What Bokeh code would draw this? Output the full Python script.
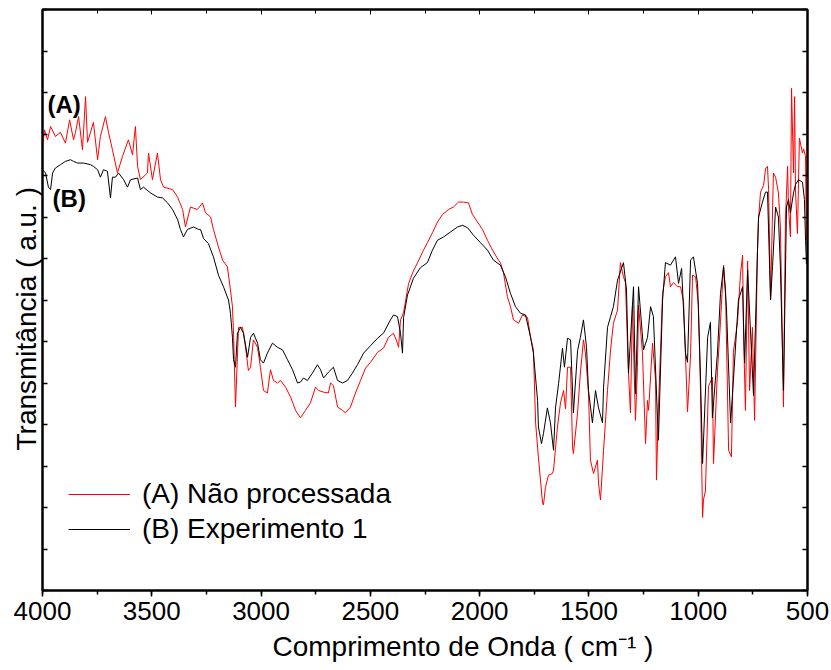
from bokeh.plotting import figure
from bokeh.models import (Range1d, SingleIntervalTicker, LinearAxis, Legend, LegendItem,
                          Label, Title, CustomJSTickFormatter)
from bokeh.embed import file_html
from bokeh.resources import INLINE

# ---- data (wavenumber in cm^-1, transmittance in arbitrary units) ----
red_wn = [4000, 3991, 3977, 3963, 3941, 3918, 3895, 3876, 3858, 3849,
          3835, 3817, 3803, 3794, 3767, 3748, 3735, 3712, 3698, 3680,
          3657, 3634, 3607, 3588, 3575, 3565, 3552, 3520, 3515, 3497,
          3474, 3460, 3446, 3405, 3382, 3359, 3346, 3323, 3291, 3268,
          3254, 3231, 3218, 3195, 3176, 3154, 3140, 3131, 3126, 3117,
          3103, 3085, 3071, 3058, 3048, 3035, 3016, 3003, 2989, 2971,
          2957, 2943, 2925, 2911, 2888, 2865, 2842, 2820, 2797, 2774,
          2751, 2737, 2714, 2692, 2682, 2669, 2650, 2627, 2614, 2591,
          2568, 2545, 2522, 2499, 2467, 2440, 2417, 2394, 2376, 2371,
          2362, 2348, 2325, 2303, 2284, 2257, 2239, 2216, 2193, 2170,
          2142, 2120, 2097, 2074, 2051, 2033, 2010, 1987, 1964, 1941,
          1914, 1905, 1891, 1873, 1859, 1845, 1822, 1804, 1781, 1767,
          1754, 1744, 1731, 1712, 1708, 1699, 1685, 1667, 1662, 1644,
          1630, 1616, 1607, 1598, 1584, 1575, 1571, 1552, 1539, 1525,
          1516, 1502, 1493, 1479, 1461, 1456, 1447, 1433, 1415, 1401,
          1388, 1369, 1356, 1342, 1333, 1319, 1310, 1301, 1287, 1278,
          1273, 1255, 1241, 1232, 1227, 1209, 1195, 1191, 1182, 1163,
          1150, 1136, 1127, 1113, 1095, 1081, 1067, 1049, 1035, 1026,
          1012, 999, 990, 980, 976, 967, 953, 935, 930, 912,
          898, 884, 875, 861, 848, 839, 820, 807, 797, 793,
          784, 774, 765, 752, 742, 729, 724, 715, 701, 692,
          683, 678, 669, 656, 646, 633, 624, 610, 601, 591,
          587, 578, 573, 564, 559, 555, 546, 537, 523, 518,
          509, 505, 500]
red_t = [53.1, 55.5, 54.3, 55.9, 54.7, 55.2, 53.9, 56.7, 54.3, 55.2,
         57.1, 53.1, 59.5, 54.0, 56.4, 51.9, 54.7, 57.1, 55.2, 53.1,
         50.3, 52.3, 54.3, 52.5, 55.9, 51.1, 49.5, 50.3, 52.7, 49.5,
         52.7, 49.5, 48.6, 48.3, 47.4, 45.9, 43.8, 46.2, 45.9, 46.7,
         45.5, 45.0, 43.5, 41.4, 39.8, 39.0, 36.2, 34.2, 31.0, 22.1,
         31.7, 31.7, 29.3, 26.5, 26.9, 30.2, 29.3, 26.9, 24.1, 23.8,
         26.6, 25.3, 25.0, 25.3, 24.5, 23.3, 21.7, 20.8, 21.7, 22.6,
         24.5, 24.1, 23.9, 23.8, 25.0, 24.7, 22.1, 21.7, 21.4, 22.1,
         23.8, 25.3, 26.8, 27.5, 28.7, 29.2, 30.5, 31.0, 29.8, 29.3,
         32.6, 33.5, 37.0, 38.5, 39.5, 41.0, 41.9, 43.1, 44.4, 45.3,
         45.9, 46.2, 46.8, 46.8, 46.7, 45.3, 44.4, 43.5, 42.2, 41.0,
         39.8, 39.5, 38.3, 35.4, 34.2, 32.6, 32.2, 33.2, 32.9, 30.5,
         29.0, 20.2, 16.0, 10.5, 10.3, 12.4, 13.9, 14.1, 14.5, 19.7,
         22.6, 24.1, 21.9, 26.9, 26.9, 17.3, 16.5, 21.4, 26.2, 30.2,
         28.6, 23.8, 15.7, 14.1, 15.7, 12.9, 10.9, 16.9, 24.1, 29.0,
         32.2, 33.8, 39.5, 37.8, 37.1, 26.2, 21.4, 34.2, 20.5, 26.9,
         34.4, 28.6, 17.7, 22.9, 21.7, 29.8, 25.3, 13.3, 22.0, 35.8,
         37.8, 38.3, 36.6, 37.1, 36.6, 36.6, 34.8, 21.5, 28.4, 38.0,
         37.8, 34.4, 24.6, 8.8, 10.9, 12.0, 24.6, 25.7, 15.3, 26.4,
         32.4, 39.2, 36.2, 16.9, 16.1, 28.7, 32.4, 38.0, 40.4, 31.7,
         21.7, 39.7, 24.1, 31.7, 20.5, 40.8, 44.7, 48.0, 48.8, 50.8,
         51.1, 48.3, 35.0, 50.3, 49.8, 47.9, 43.8, 22.1, 44.7, 51.1,
         46.2, 42.6, 60.5, 50.3, 59.5, 48.3, 43.0, 54.5, 52.7, 53.2,
         52.3, 42.2, 65.2]

black_wn = [4000, 3986, 3973, 3963, 3954, 3941, 3918, 3895, 3872, 3858,
            3840, 3812, 3780, 3767, 3748, 3735, 3721, 3703, 3689, 3680,
            3666, 3652, 3629, 3611, 3597, 3565, 3552, 3538, 3506, 3474,
            3451, 3428, 3405, 3382, 3369, 3355, 3337, 3309, 3286, 3277,
            3263, 3241, 3218, 3195, 3172, 3149, 3140, 3131, 3126, 3117,
            3108, 3094, 3080, 3062, 3048, 3035, 3016, 3003, 2989, 2971,
            2948, 2925, 2902, 2879, 2856, 2833, 2820, 2806, 2788, 2765,
            2742, 2728, 2714, 2692, 2669, 2650, 2627, 2605, 2582, 2559,
            2531, 2499, 2467, 2440, 2408, 2394, 2376, 2362, 2353, 2348,
            2330, 2303, 2271, 2239, 2216, 2193, 2165, 2133, 2101, 2078,
            2055, 2028, 1996, 1964, 1937, 1905, 1882, 1859, 1836, 1813,
            1790, 1767, 1754, 1735, 1731, 1717, 1708, 1690, 1676, 1662,
            1653, 1639, 1621, 1612, 1598, 1584, 1571, 1552, 1539, 1525,
            1511, 1502, 1484, 1470, 1456, 1438, 1433, 1415, 1401, 1388,
            1369, 1342, 1328, 1319, 1296, 1287, 1273, 1250, 1232, 1218,
            1205, 1182, 1163, 1150, 1127, 1104, 1090, 1076, 1058, 1049,
            1035, 1022, 1003, 990, 980, 957, 944, 935, 912, 898,
            884, 871, 852, 839, 816, 797, 788, 774, 761, 747,
            729, 724, 706, 692, 683, 669, 660, 646, 633, 624,
            610, 596, 587, 578, 564, 555, 541, 523, 514, 509,
            505, 500]
black_t = [50.7, 50.3, 48.6, 48.3, 50.3, 50.9, 51.3, 51.7, 51.9, 51.7,
           51.5, 51.5, 51.3, 51.1, 50.7, 49.8, 50.7, 50.5, 47.3, 49.8,
           49.8, 50.3, 49.5, 48.6, 49.5, 49.7, 48.3, 48.6, 47.9, 47.4,
           47.3, 46.7, 45.9, 44.7, 43.5, 42.6, 43.5, 43.8, 43.5, 43.5,
           42.4, 41.8, 40.2, 38.0, 36.6, 35.0, 33.4, 30.5, 27.8, 26.9,
           31.0, 31.7, 31.0, 28.1, 30.5, 31.0, 29.8, 27.8, 27.4, 28.6,
           29.8, 29.3, 29.0, 27.8, 26.6, 25.0, 25.1, 25.6, 25.3, 26.2,
           27.2, 26.6, 25.6, 26.3, 26.9, 25.3, 25.0, 25.3, 26.2, 27.2,
           28.6, 29.5, 30.4, 31.0, 32.6, 33.2, 33.0, 31.0, 28.6, 32.9,
           35.6, 37.6, 38.9, 39.5, 41.0, 42.2, 42.6, 43.2, 43.8, 44.0,
           43.7, 42.8, 41.9, 41.0, 39.8, 39.2, 37.8, 35.8, 34.2, 33.4,
           33.2, 30.5, 28.6, 22.9, 19.7, 17.7, 18.9, 22.0, 20.2, 16.9,
           22.0, 24.9, 29.2, 26.9, 30.4, 30.2, 21.4, 28.9, 30.5, 32.6,
           29.3, 24.1, 20.2, 24.1, 22.0, 20.2, 24.5, 31.7, 33.0, 34.2,
           37.4, 39.5, 36.2, 26.2, 36.6, 23.7, 36.6, 29.0, 30.5, 34.2,
           33.0, 18.1, 35.0, 39.5, 39.2, 40.2, 37.0, 38.8, 28.6, 27.5,
           39.8, 40.2, 37.0, 26.2, 15.3, 30.5, 32.3, 20.8, 28.6, 35.8,
           39.0, 34.2, 20.2, 25.3, 35.0, 36.6, 27.4, 38.6, 31.4, 23.5,
           40.8, 45.0, 46.8, 48.0, 48.0, 35.0, 39.0, 46.2, 45.0, 39.0,
           24.1, 46.2, 47.1, 45.5, 47.9, 48.9, 49.5, 49.2, 47.1, 42.2,
           39.4, 40.0]

series_labels = ["(A) Não processada", "(B) Experimento 1"]
curve_tags = ["(A)", "(B)"]
x_title = "Comprimento de Onda ( cm\u207b\u00b9 )"
y_title = "Transmitância ( a.u. )"

FONT = "Liberation Sans"

p = figure(width=831, height=670, output_backend="svg", toolbar_location=None,
           x_range=Range1d(4000, 500), y_range=Range1d(0, 70),
           x_axis_location=None, y_axis_location=None,
           min_border_left=42, min_border_right=24, min_border_top=9, min_border_bottom=80)
p.grid.visible = False
p.outline_line_color = "black"
p.outline_line_width = 2
p.background_fill_color = "white"
p.border_fill_color = "white"

blank = CustomJSTickFormatter(code="return ''")

xb = LinearAxis(ticker=SingleIntervalTicker(interval=500, num_minor_ticks=2),
                major_tick_in=0, major_tick_out=6, minor_tick_in=0, minor_tick_out=4,
                axis_line_width=2, major_tick_line_width=1.5, minor_tick_line_width=1.5,
                major_label_text_font=FONT, major_label_text_font_size="26px",
                major_label_text_color="black", major_label_standoff=5)
p.add_layout(xb, "below")

xt = LinearAxis(ticker=SingleIntervalTicker(interval=500, num_minor_ticks=2), formatter=blank,
                major_tick_in=5, major_tick_out=0, minor_tick_in=4, minor_tick_out=0,
                axis_line_width=2, major_label_standoff=0, major_label_text_font_size="1px")
p.add_layout(xt, "above")

for side in ("left", "right"):
    ya = LinearAxis(ticker=SingleIntervalTicker(interval=5, num_minor_ticks=0), formatter=blank,
                    major_tick_in=5, major_tick_out=0, minor_tick_in=0, minor_tick_out=0,
                    axis_line_width=2, major_tick_line_width=1.5,
                    major_label_standoff=0, major_label_text_font_size="1px")
    p.add_layout(ya, side)

r_red = p.line(red_wn, red_t, line_color="#ff0000", line_width=1)
r_blk = p.line(black_wn, black_t, line_color="#000000", line_width=1)

legend = Legend(items=[LegendItem(label=series_labels[0], renderers=[r_red]),
                       LegendItem(label=series_labels[1], renderers=[r_blk])],
                location=(26, 45), label_text_font=FONT, label_text_font_size="28px",
                label_text_color="black",
                glyph_width=62, glyph_height=30, label_height=30, spacing=3,
                padding=0, margin=0, label_standoff=12,
                border_line_color=None, background_fill_alpha=0)
p.add_layout(legend, "center")

p.add_layout(Label(x=3977, y=58.5, text=curve_tags[0], text_font=FONT, text_font_style="bold",
                   text_color="black", text_font_size="24px", text_baseline="middle",
                   text_align="left"))
p.add_layout(Label(x=3954, y=47.2, text=curve_tags[1], text_font=FONT, text_font_style="bold",
                   text_color="black", text_font_size="24px", text_baseline="middle",
                   text_align="left"))

# axis titles
p.add_layout(Title(text=x_title, align="left", offset=230, standoff=13,
                   text_font=FONT, text_font_size="28px", text_font_style="normal",
                   text_color="black"), "below")
p.add_layout(Title(text=y_title, align="left", offset=140, standoff=2,
                   text_font=FONT, text_font_size="28px", text_font_style="normal",
                   text_color="black"), "left")

open("out.html", "w").write(file_html(p, INLINE))
